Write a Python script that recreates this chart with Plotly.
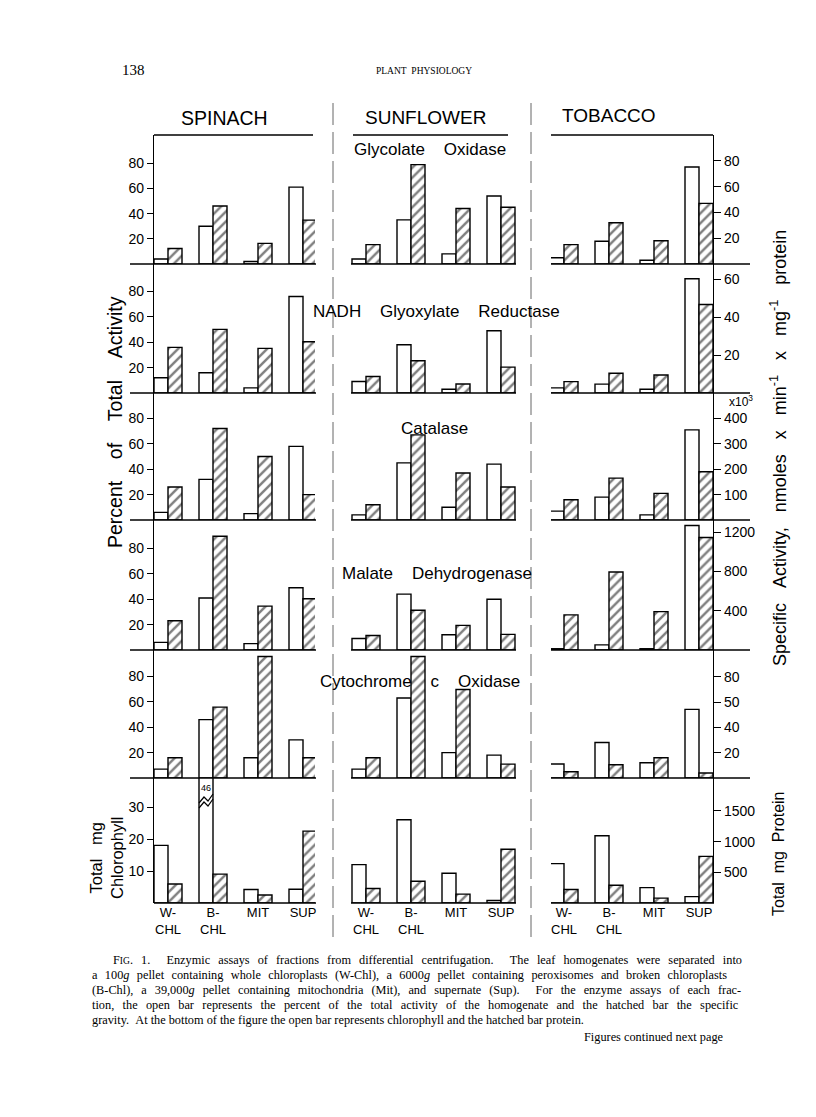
import plotly.graph_objects as go

# ---------------- data ----------------
fractions = ["W-CHL", "B-CHL", "MIT", "SUP"]
fraction_labels = ["W-<br>CHL", "B-<br>CHL", "MIT", "SUP"]
plants = ["SPINACH", "SUNFLOWER", "TOBACCO"]

# open bars: percent of total activity (last row: total mg chlorophyll)
# hatched bars: specific activity, nmoles x min-1 x mg-1 protein (last row: total mg protein)
# each list: [spinach, sunflower, tobacco], each with values for W-CHL, B-CHL, MIT, SUP
glycolate_oxidase_pct = [[4, 30, 2, 61], [4, 35, 8, 54], [5, 18, 3, 77]]
glycolate_oxidase_sa = [[12, 45, 16, 34], [15, 77, 43, 44], [15, 32, 18, 47]]

glyoxylate_reductase_pct = [[12, 16, 4, 76], [9, 38, 3, 49], [4, 7, 3, 90]]
glyoxylate_reductase_sa = [[24, 33.5, 23.5, 27], [8.7, 17, 4.7, 13.6], [6, 10.4, 9.5, 46.6]]

catalase_pct = [[6, 32, 5, 58], [4, 45, 10, 44], [7, 18, 4, 71]]
catalase_sa = [[130, 360, 250, 100], [60, 335, 185, 130], [80, 165, 105, 190]]   # x10^3

malate_dh_pct = [[6, 41, 5, 49], [9, 44, 12, 40], [1, 4, 1, 98]]
malate_dh_sa = [[297, 1157, 446, 522], [148, 404, 251, 159], [357, 793, 390, 1144]]

cyt_oxidase_pct = [[7, 46, 16, 30], [7, 63, 20, 18], [11, 28, 12, 54]]
cyt_oxidase_sa = [[16, 56, 96, 16], [16, 96, 70, 11], [5, 10.5, 16, 4]]

chlorophyll_mg = [[18, 46, 4.2, 4.3], [12, 26, 9.3, 0.8], [12.3, 21, 4.8, 2]]
protein_mg = [[310, 470, 130, 1170], [235, 355, 145, 875], [220, 290, 80, 760]]

SP = "&nbsp;&nbsp;&nbsp;&nbsp;"
enzyme_names = ["Glycolate" + SP + "Oxidase",
                "NADH" + SP + "Glyoxylate" + SP + "Reductase",
                "Catalase",
                "Malate" + SP + "Dehydrogenase",
                "Cytochrome" + SP + "c" + SP + "Oxidase"]

left_ticks = [[20, 40, 60, 80]] * 5 + [[10, 20, 30]]
right_ticks = [[20, 40, 60, 80], [20, 40, 60], [100, 200, 300, 400],
               [400, 800, 1200], [20, 40, 60, 80], [500, 1000, 1500]]
right_ticktext = [["20", "40", "60", "80"], ["20", "40", "60"], ["100", "200", "300", "400"],
                  ["400", "800", "1200"], ["20", "40", "50", "80"], ["500", "1000", "1500"]]

open_rows = [glycolate_oxidase_pct, glyoxylate_reductase_pct, catalase_pct,
             malate_dh_pct, cyt_oxidase_pct, chlorophyll_mg]
hatch_rows = [glycolate_oxidase_sa, glyoxylate_reductase_sa, catalase_sa,
              malate_dh_sa, cyt_oxidase_sa, protein_mg]

# ---------------- layout geometry (pixels) ----------------
W, H = 816, 1117
def px(x): return x / W
def py(y): return 1 - y / H

col_dom = [(146, 307), (338, 510), (543, 705)]
col_c0 = [160, 358, 556]
spacing = 45.0
bw = 14 / spacing

row_top = [127, 256, 385, 512, 642, 770]
row_base = [256, 385, 512, 642, 770, 895]
left_scale = [1.26, 1.27, 1.27, 1.27, 1.27, 3.2]
right_scale = [1.29, 1.9, 0.254, 0.0983, 1.265, 0.0614]

FONT = "Liberation Sans"
SERIF = "Liberation Serif"

fig = go.Figure()

for r in range(6):
    ly = "y" if r == 0 else f"y{2*r+1}"
    ry = f"y{2*r+2}"
    for c in range(3):
        xa = "x" if c == 0 else f"x{c+1}"
        clip = (r == 5)
        fig.add_trace(go.Bar(
            x=fractions, y=open_rows[r][c], xaxis=xa, yaxis=ly,
            offset=-bw, width=bw, cliponaxis=clip,
            marker=dict(color="white", line=dict(color="black", width=1.4)),
            showlegend=False, hoverinfo="y"))
        fig.add_trace(go.Bar(
            x=fractions, y=hatch_rows[r][c], xaxis=xa, yaxis=ry,
            offset=0, width=bw, cliponaxis=clip,
            marker=dict(color="white", line=dict(color="black", width=1.4),
                        pattern=dict(shape="/", fgcolor="black", bgcolor="white",
                                     size=7, solidity=0.35)),
            showlegend=False, hoverinfo="y"))

layout_axes = {}
for c in range(3):
    name = "xaxis" if c == 0 else f"xaxis{c+1}"
    d0, d1 = col_dom[c]
    layout_axes[name] = dict(
        domain=[px(d0), px(d1)], type="category",
        categoryorder="array", categoryarray=fractions,
        range=[(d0 - col_c0[c]) / spacing, (d1 - col_c0[c]) / spacing],
        anchor="y11", showline=False, showgrid=False, zeroline=False,
        ticks="", tickvals=fractions, ticktext=fraction_labels,
        tickfont=dict(family=FONT, size=13, color="black"))

for r in range(6):
    lname = "yaxis" if r == 0 else f"yaxis{2*r+1}"
    rname = f"yaxis{2*r+2}"
    hpx = row_base[r] - row_top[r]
    dom = [py(row_base[r]), py(row_top[r])]
    layout_axes[lname] = dict(
        domain=dom, range=[0, hpx / left_scale[r]], anchor="x", side="left",
        showline=True, linecolor="black", linewidth=1.4, ticks="outside",
        ticklen=6, tickwidth=1.2, tickcolor="black", tickvals=left_ticks[r],
        showgrid=False, zeroline=False,
        tickfont=dict(family=FONT, size=14, color="black"))
    layout_axes[rname] = dict(
        domain=dom, range=[0, hpx / right_scale[r]], anchor="x3", side="right",
        showline=True, linecolor="black", linewidth=1.4, ticks="outside",
        ticklen=7, tickwidth=1.2, tickcolor="black", tickvals=right_ticks[r],
        ticktext=right_ticktext[r], showgrid=False, zeroline=False,
        tickfont=dict(family=FONT, size=14, color="black"))

fig.update_layout(**layout_axes)

# ---------------- decorations ----------------
shapes = []
def hline(x0, x1, y, w=1.4):
    shapes.append(dict(type="line", xref="paper", yref="paper", x0=px(x0), x1=px(x1),
                       y0=py(y), y1=py(y), line=dict(color="black", width=w)))

hline(146, 305, 127)
hline(345, 500, 127)
hline(543, 705, 127)
for yb in row_base[:5]:
    hline(122, 308, yb)
    hline(343, 508, yb)
    hline(543, 742, yb)
hline(146, 308, 895)
hline(343, 508, 895)
hline(543, 706, 895)

for xs in (325, 523):
    shapes.append(dict(type="line", xref="paper", yref="paper", x0=px(xs), x1=px(xs),
                       y0=py(95), y1=py(932),
                       line=dict(color="#666666", width=1, dash="22px,7px")))

# break mark on the 46 mg chlorophyll bar
for dy in (0, 5):
    shapes.append(dict(type="path", xref="paper", yref="paper",
                       path=f"M {px(191)},{py(800-dy)} L {px(196)},{py(794-dy)} L {px(200)},{py(798-dy)} L {px(205)},{py(791-dy)}",
                       line=dict(color="black", width=1.2)))

annotations = []
def txt(t, x, y, size, font=FONT, xanchor="center", angle=0, color="black"):
    annotations.append(dict(text=t, x=px(x), y=py(y), xref="paper", yref="paper",
                            showarrow=False, xanchor=xanchor, yanchor="middle",
                            textangle=angle, font=dict(family=font, size=size, color=color)))

txt("SPINACH", 216, 110, 19.5)
txt("SUNFLOWER", 418, 110, 19)
txt("TOBACCO", 601, 108, 19)

txt(enzyme_names[0], 422, 141, 17)
txt(enzyme_names[1], 428, 303, 17)
txt(enzyme_names[2], 426, 420, 17)
txt(enzyme_names[3], 429, 565, 17)
txt(enzyme_names[4], 412, 673, 17)

S3 = "&nbsp;&nbsp;&nbsp;&nbsp;"
txt("Percent" + S3 + "of" + S3 + "Total" + S3 + "Activity", 107, 414, 19.5, angle=-90)
txt("Total&nbsp;&nbsp;&nbsp;mg<br>Chlorophyll", 98, 850, 16.5, angle=-90)
txt("Specific&nbsp;&nbsp;&nbsp;Activity,&nbsp;&nbsp;&nbsp;nmoles&nbsp;&nbsp;&nbsp;x&nbsp;&nbsp;&nbsp;min<sup>-1</sup>&nbsp;&nbsp;&nbsp;x&nbsp;&nbsp;&nbsp;mg<sup>-1</sup>&nbsp;&nbsp;&nbsp;protein",
    770, 440, 18, angle=-90)
txt("Total&nbsp;&nbsp;mg&nbsp;&nbsp;Protein", 770, 846, 16, angle=-90)
txt("x10<sup>3</sup>", 719, 393, 12, xanchor="left")
txt("46", 198, 780, 9)

txt("138", 112, 62, 15, font=SERIF, xanchor="left")
txt("PLANT&nbsp;&nbsp;PHYSIOLOGY", 416, 63, 9.5, font=SERIF)

caption = [
    ("F<span style='font-size:9.5px'>IG</span>. 1.&nbsp;&nbsp;Enzymic assays of fractions from differential centrifugation.&nbsp;&nbsp;The leaf homogenates were separated into", 103, 5.0),
    ("a 100<i>g</i> pellet containing whole chloroplasts (W-Chl), a 6000<i>g</i> pellet containing peroxisomes and broken chloroplasts", 82, 4.3),
    ("(B-Chl), a 39,000<i>g</i> pellet containing mitochondria (Mit), and supernate (Sup).&nbsp;&nbsp;For the enzyme assays of each frac-", 82, 4.9),
    ("tion, the open bar represents the percent of the total activity of the homogenate and the hatched bar the specific", 82, 5.3),
    ("gravity.&nbsp;&nbsp;At the bottom of the figure the open bar represents chlorophyll and the hatched bar protein.", 82, 0.0),
]
for i, (line, x0, ws) in enumerate(caption):
    t = f"<span style='word-spacing:{ws}px'>{line}</span>" if ws else line
    txt(t, x0, 952 + 15 * i, 12.3, font=SERIF, xanchor="left")
annotations.append(dict(text="Figures continued next page", x=px(718), y=py(1029),
                        xref="paper", yref="paper", showarrow=False, xanchor="right",
                        yanchor="middle", font=dict(family=SERIF, size=12.3, color="black")))

fig.update_layout(
    width=W, height=H, margin=dict(l=0, r=0, t=0, b=0),
    paper_bgcolor="white", plot_bgcolor="rgba(0,0,0,0)",
    barmode="overlay", showlegend=False,
    shapes=shapes, annotations=annotations,
)

fig.write_html("out.html")
